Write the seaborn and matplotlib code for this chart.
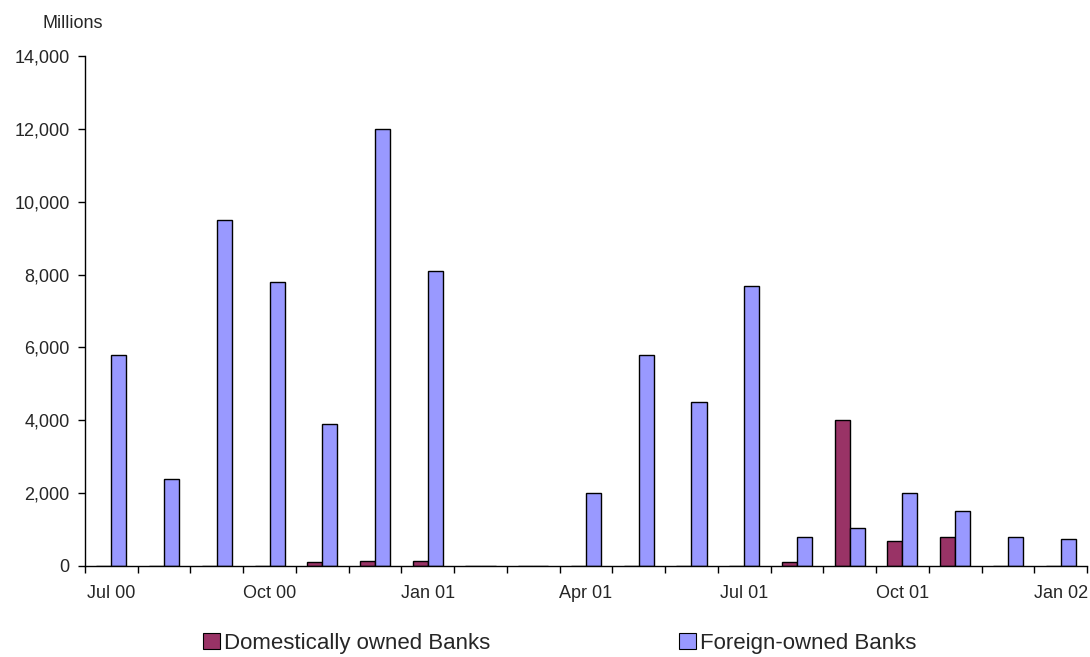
import matplotlib
matplotlib.use("Agg")
import matplotlib.pyplot as plt
from matplotlib.ticker import FuncFormatter
from matplotlib.patches import Patch
import seaborn as sns
import pandas as pd
import numpy as np

months = ["Jul 00", "Aug 00", "Sep 00", "Oct 00", "Nov 00", "Dec 00", "Jan 01",
          "Feb 01", "Mar 01", "Apr 01", "May 01", "Jun 01", "Jul 01", "Aug 01",
          "Sep 01", "Oct 01", "Nov 01", "Dec 01", "Jan 02"]
domestic = [0, 0, 0, 0, 100, 150, 150, 0, 0, 0, 0, 0, 0, 100, 4000, 700, 800, 0, 0]
foreign = [5800, 2400, 9500, 7800, 3900, 12000, 8100, 0, 0, 2000, 5800, 4500, 7700,
           800, 1050, 2000, 1500, 800, 750]
series_names = ["Domestically owned Banks", "Foreign-owned Banks"]
series_colors = ["#993366", "#9999FF"]
label_months = ["Jul 00", "Oct 00", "Jan 01", "Apr 01", "Jul 01", "Oct 01", "Jan 02"]

df = pd.DataFrame({
    "month": months * 2,
    "value": domestic + foreign,
    "bank": [series_names[0]] * len(months) + [series_names[1]] * len(months),
})

sns.set_style("white")
plt.rcParams["font.family"] = ["Liberation Sans", "DejaVu Sans"]

fig = plt.figure(figsize=(10.9, 6.57), dpi=100)
ax = fig.add_axes([85 / 1090, (657 - 566) / 657, (1087 - 85) / 1090, (566 - 56) / 657])

sns.barplot(data=df, x="month", y="value", hue="bank", order=months,
            hue_order=series_names, palette=series_colors, width=0.57,
            edgecolor="black", linewidth=1.0, saturation=1, ax=ax, legend=False)

ax.set_xlim(-0.5, len(months) - 0.5)
ax.set_ylim(0, 14000)
ax.set_yticks(np.arange(0, 14001, 2000))
ax.yaxis.set_major_formatter(FuncFormatter(lambda v, p: f"{int(v):,}"))
ax.tick_params(axis="y", direction="out", length=5, width=1, color="black",
               labelsize=13, pad=6, left=True)

# tick marks at category boundaries, labels at every third month
ax.set_xticks(np.arange(-0.5, len(months), 1.0))
ax.set_xticklabels([])
ax.tick_params(axis="x", which="major", direction="out", length=5, width=1,
               color="black", bottom=True)
ax.set_xticks([months.index(m) for m in label_months], label_months, minor=True)
ax.tick_params(axis="x", which="minor", length=0, labelsize=13, pad=14)

ax.set_xlabel("")
ax.set_ylabel("")
for s in ["top", "right"]:
    ax.spines[s].set_visible(False)
for s in ["left", "bottom"]:
    ax.spines[s].set_color("black")
    ax.spines[s].set_linewidth(1)

fig.text(42 / 1090, 1 - 23 / 657, "Millions", fontsize=13, va="center", ha="left")

handles = [Patch(facecolor=c, edgecolor="black", linewidth=0.8) for c in series_colors]
fig.legend(handles, series_names, loc="center", bbox_to_anchor=(560 / 1090, 1 - 643 / 657),
           ncol=2, frameon=False, fontsize=16, handlelength=0.75, handleheight=0.75,
           handletextpad=0.2, columnspacing=8.5)

fig.savefig("out.png", dpi=100)
